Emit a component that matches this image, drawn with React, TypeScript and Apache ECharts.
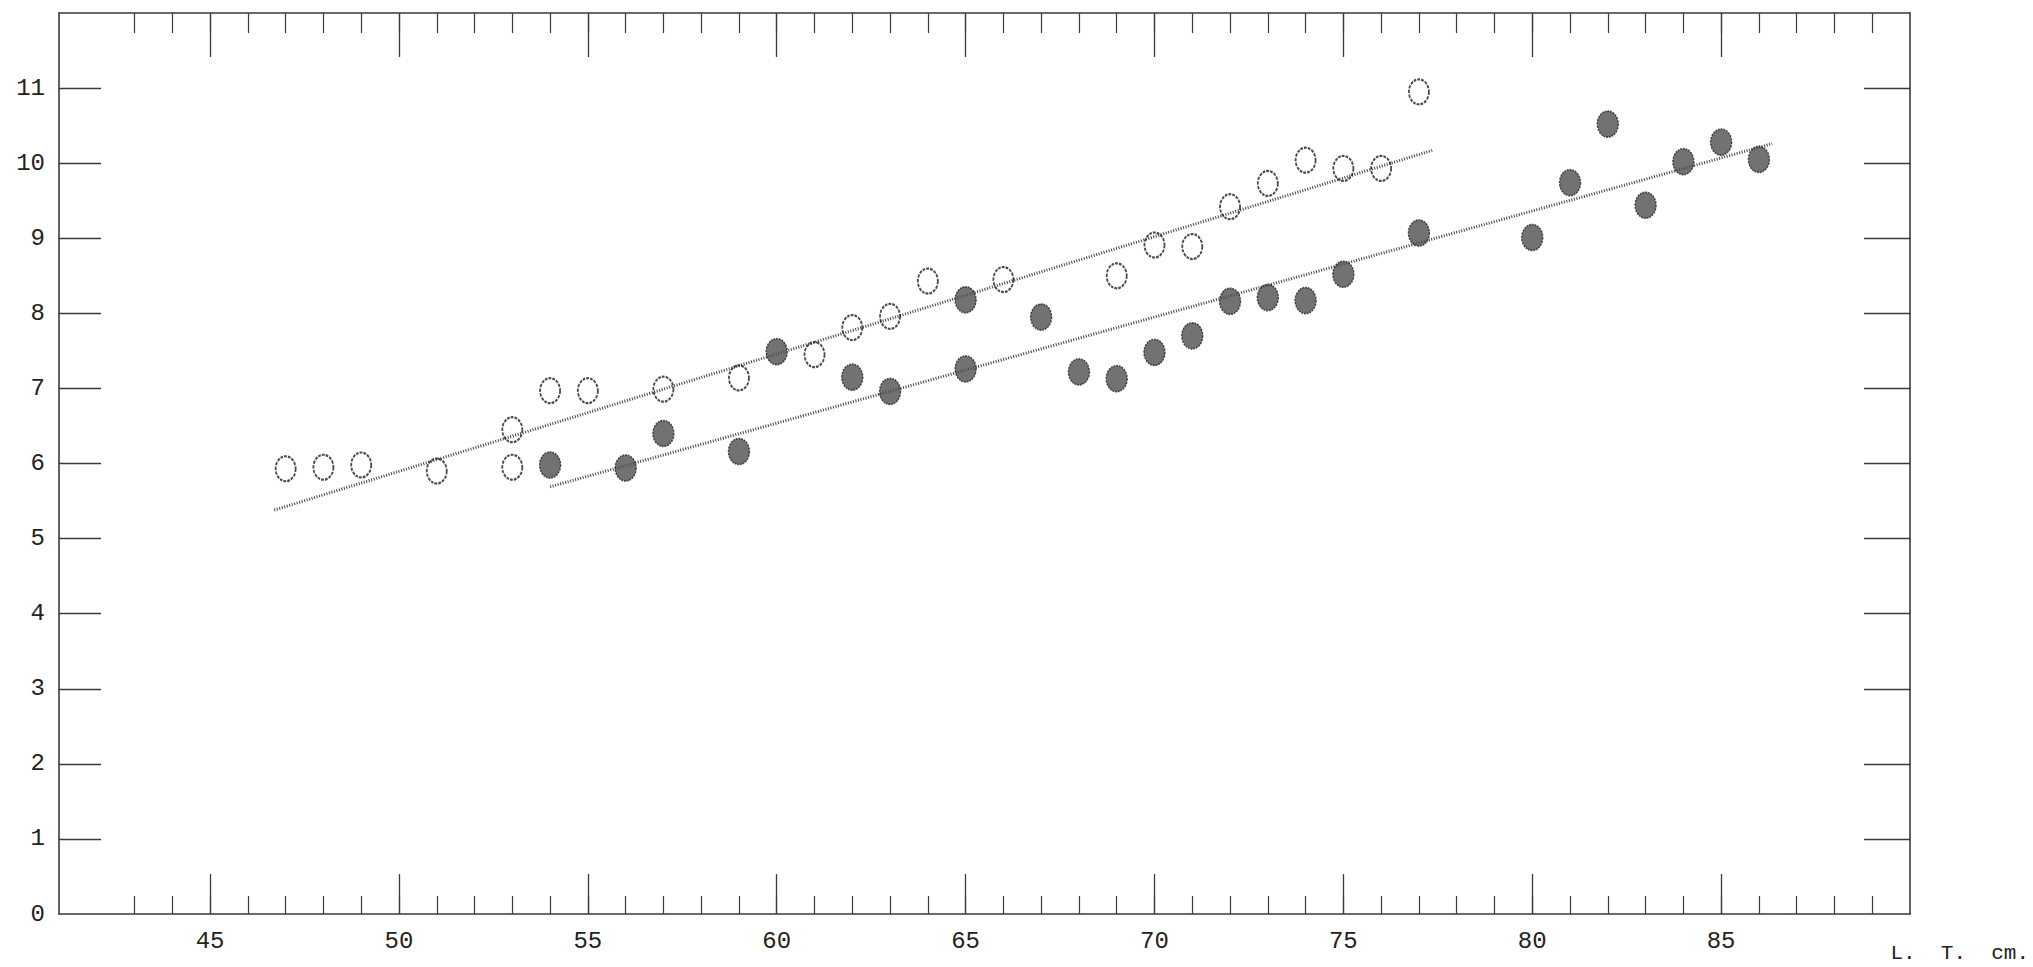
import React, { useEffect, useRef } from 'react';
import * as echarts from 'echarts';

// ---- data ----
const openX = [47, 48, 49, 51, 53, 53, 54, 55, 57, 59, 61, 62, 63, 64, 66, 69, 70, 71, 72, 73, 74, 75, 76, 77];
const openY = [5.93, 5.95, 5.98, 5.90, 6.45, 5.95, 6.97, 6.97, 6.99, 7.14, 7.45, 7.81, 7.96, 8.43, 8.45, 8.50, 8.91, 8.89, 9.42, 9.73, 10.04, 9.93, 9.93, 10.95];

const filledX = [54, 56, 57, 59, 60, 62, 63, 65, 65, 67, 68, 69, 70, 71, 72, 73, 74, 75, 77, 80, 81, 82, 83, 84, 85, 86];
const filledY = [5.98, 5.94, 6.40, 6.16, 7.49, 7.15, 6.96, 8.18, 7.26, 7.95, 7.22, 7.13, 7.48, 7.70, 8.16, 8.21, 8.17, 8.52, 9.07, 9.01, 9.74, 10.52, 9.44, 10.02, 10.28, 10.05];

// fitted lines (end points)
const openFitX = [46.7, 77.35];
const openFitY = [5.38, 10.17];
const filledFitX = [54.0, 86.35];
const filledFitY = [5.69, 10.26];

// axes
const xMin = 41;
const xMax = 90;
const yMin = 0;
const yMax = 12;
const xMinorTicks = [43, 44, 45, 46, 47, 48, 49, 50, 51, 52, 53, 54, 55, 56, 57, 58, 59, 60, 61, 62, 63, 64, 65, 66, 67, 68, 69, 70, 71, 72, 73, 74, 75, 76, 77, 78, 79, 80, 81, 82, 83, 84, 85, 86, 87, 88, 89];
const xMajorTicks = [45, 50, 55, 60, 65, 70, 75, 80, 85];
const yTicks = [1, 2, 3, 4, 5, 6, 7, 8, 9, 10, 11];
const yLabels = [0, 1, 2, 3, 4, 5, 6, 7, 8, 9, 10, 11];
const xUnitLabel = 'L.  T.  cm.';

const INK = '#3a3a3a';
const FONT = "'Liberation Mono', 'DejaVu Sans Mono', monospace";

function pairs(xs: number[], ys: number[]) {
  return xs.map((x, i) => [x, ys[i]]);
}

export default function App() {
  const ref = useRef<HTMLDivElement>(null);

  useEffect(() => {
    const chart = echarts.init(ref.current!, null, { renderer: 'svg' });

    const lineStyle = { color: INK, width: 1.6 };
    const baseX = {
      type: 'value',
      min: xMin,
      max: xMax,
      splitLine: { show: false },
    };

    const option: any = {
      animation: false,
      backgroundColor: '#ffffff',
      grid: { left: 59, right: 123, top: 13, bottom: 53 },
      xAxis: [
        {
          ...baseX,
          position: 'bottom',
          axisLine: { show: true, lineStyle },
          axisTick: { show: true, inside: true, length: 18, customValues: xMinorTicks, lineStyle: { color: INK, width: 1.2 } },
          axisLabel: { show: false },
        },
        {
          ...baseX,
          position: 'bottom',
          axisLine: { show: false },
          axisTick: { show: true, inside: true, length: 40, customValues: xMajorTicks, lineStyle: { color: INK, width: 1.3 } },
          axisLabel: { show: true, customValues: xMajorTicks, fontFamily: FONT, fontSize: 24, color: '#222', margin: 15 },
        },
        {
          ...baseX,
          position: 'top',
          axisLine: { show: true, lineStyle },
          axisTick: { show: true, inside: true, length: 20, customValues: xMinorTicks, lineStyle: { color: INK, width: 1.2 } },
          axisLabel: { show: false },
        },
        {
          ...baseX,
          position: 'top',
          axisLine: { show: false },
          axisTick: { show: true, inside: true, length: 44, customValues: xMajorTicks, lineStyle: { color: INK, width: 1.3 } },
          axisLabel: { show: false },
        },
      ],
      yAxis: [
        {
          type: 'value',
          min: yMin,
          max: yMax,
          position: 'left',
          splitLine: { show: false },
          axisLine: { show: true, lineStyle },
          axisTick: { show: true, inside: true, length: 42, customValues: yTicks, lineStyle: { color: INK, width: 1.3 } },
          axisLabel: { show: true, customValues: yLabels, fontFamily: FONT, fontSize: 24, color: '#222', margin: 14 },
        },
        {
          type: 'value',
          min: yMin,
          max: yMax,
          position: 'right',
          splitLine: { show: false },
          axisLine: { show: true, lineStyle },
          axisTick: { show: true, inside: true, length: 46, customValues: yTicks, lineStyle: { color: INK, width: 1.3 } },
          axisLabel: { show: false },
        },
      ],
      series: [
        {
          type: 'line',
          xAxisIndex: 0,
          yAxisIndex: 0,
          data: pairs(openFitX, openFitY),
          symbol: 'none',
          lineStyle: { color: '#444', width: 3, type: [1, 1.6] },
          z: 1,
        },
        {
          type: 'line',
          xAxisIndex: 0,
          yAxisIndex: 0,
          data: pairs(filledFitX, filledFitY),
          symbol: 'none',
          lineStyle: { color: '#444', width: 3, type: [1, 1.6] },
          z: 1,
        },
        {
          type: 'scatter',
          xAxisIndex: 0,
          yAxisIndex: 0,
          data: pairs(openX, openY),
          symbol: 'circle',
          symbolSize: [20, 25],
          itemStyle: { color: 'rgba(255,255,255,0)', borderColor: '#1e1e1e', borderWidth: 2, borderType: [3, 1.2] },
          z: 3,
        },
        {
          type: 'scatter',
          xAxisIndex: 0,
          yAxisIndex: 0,
          data: pairs(filledX, filledY),
          symbol: 'circle',
          symbolSize: [21, 26],
          itemStyle: { color: '#4f4f4f', borderColor: '#222', borderWidth: 1.5, borderType: [2, 1] },
          z: 3,
        },
      ],
      graphic: [
        {
          type: 'text',
          right: 4,
          bottom: 3,
          style: { text: xUnitLabel, font: `21px ${FONT}`, fill: '#222' },
        },
      ],
    };

    chart.setOption(option);
    return () => chart.dispose();
  }, []);

  return (
    <div
      ref={ref}
      style={{ position: 'absolute', left: 0, top: 0, width: 2033, height: 967, background: '#fff' }}
    />
  );
}
